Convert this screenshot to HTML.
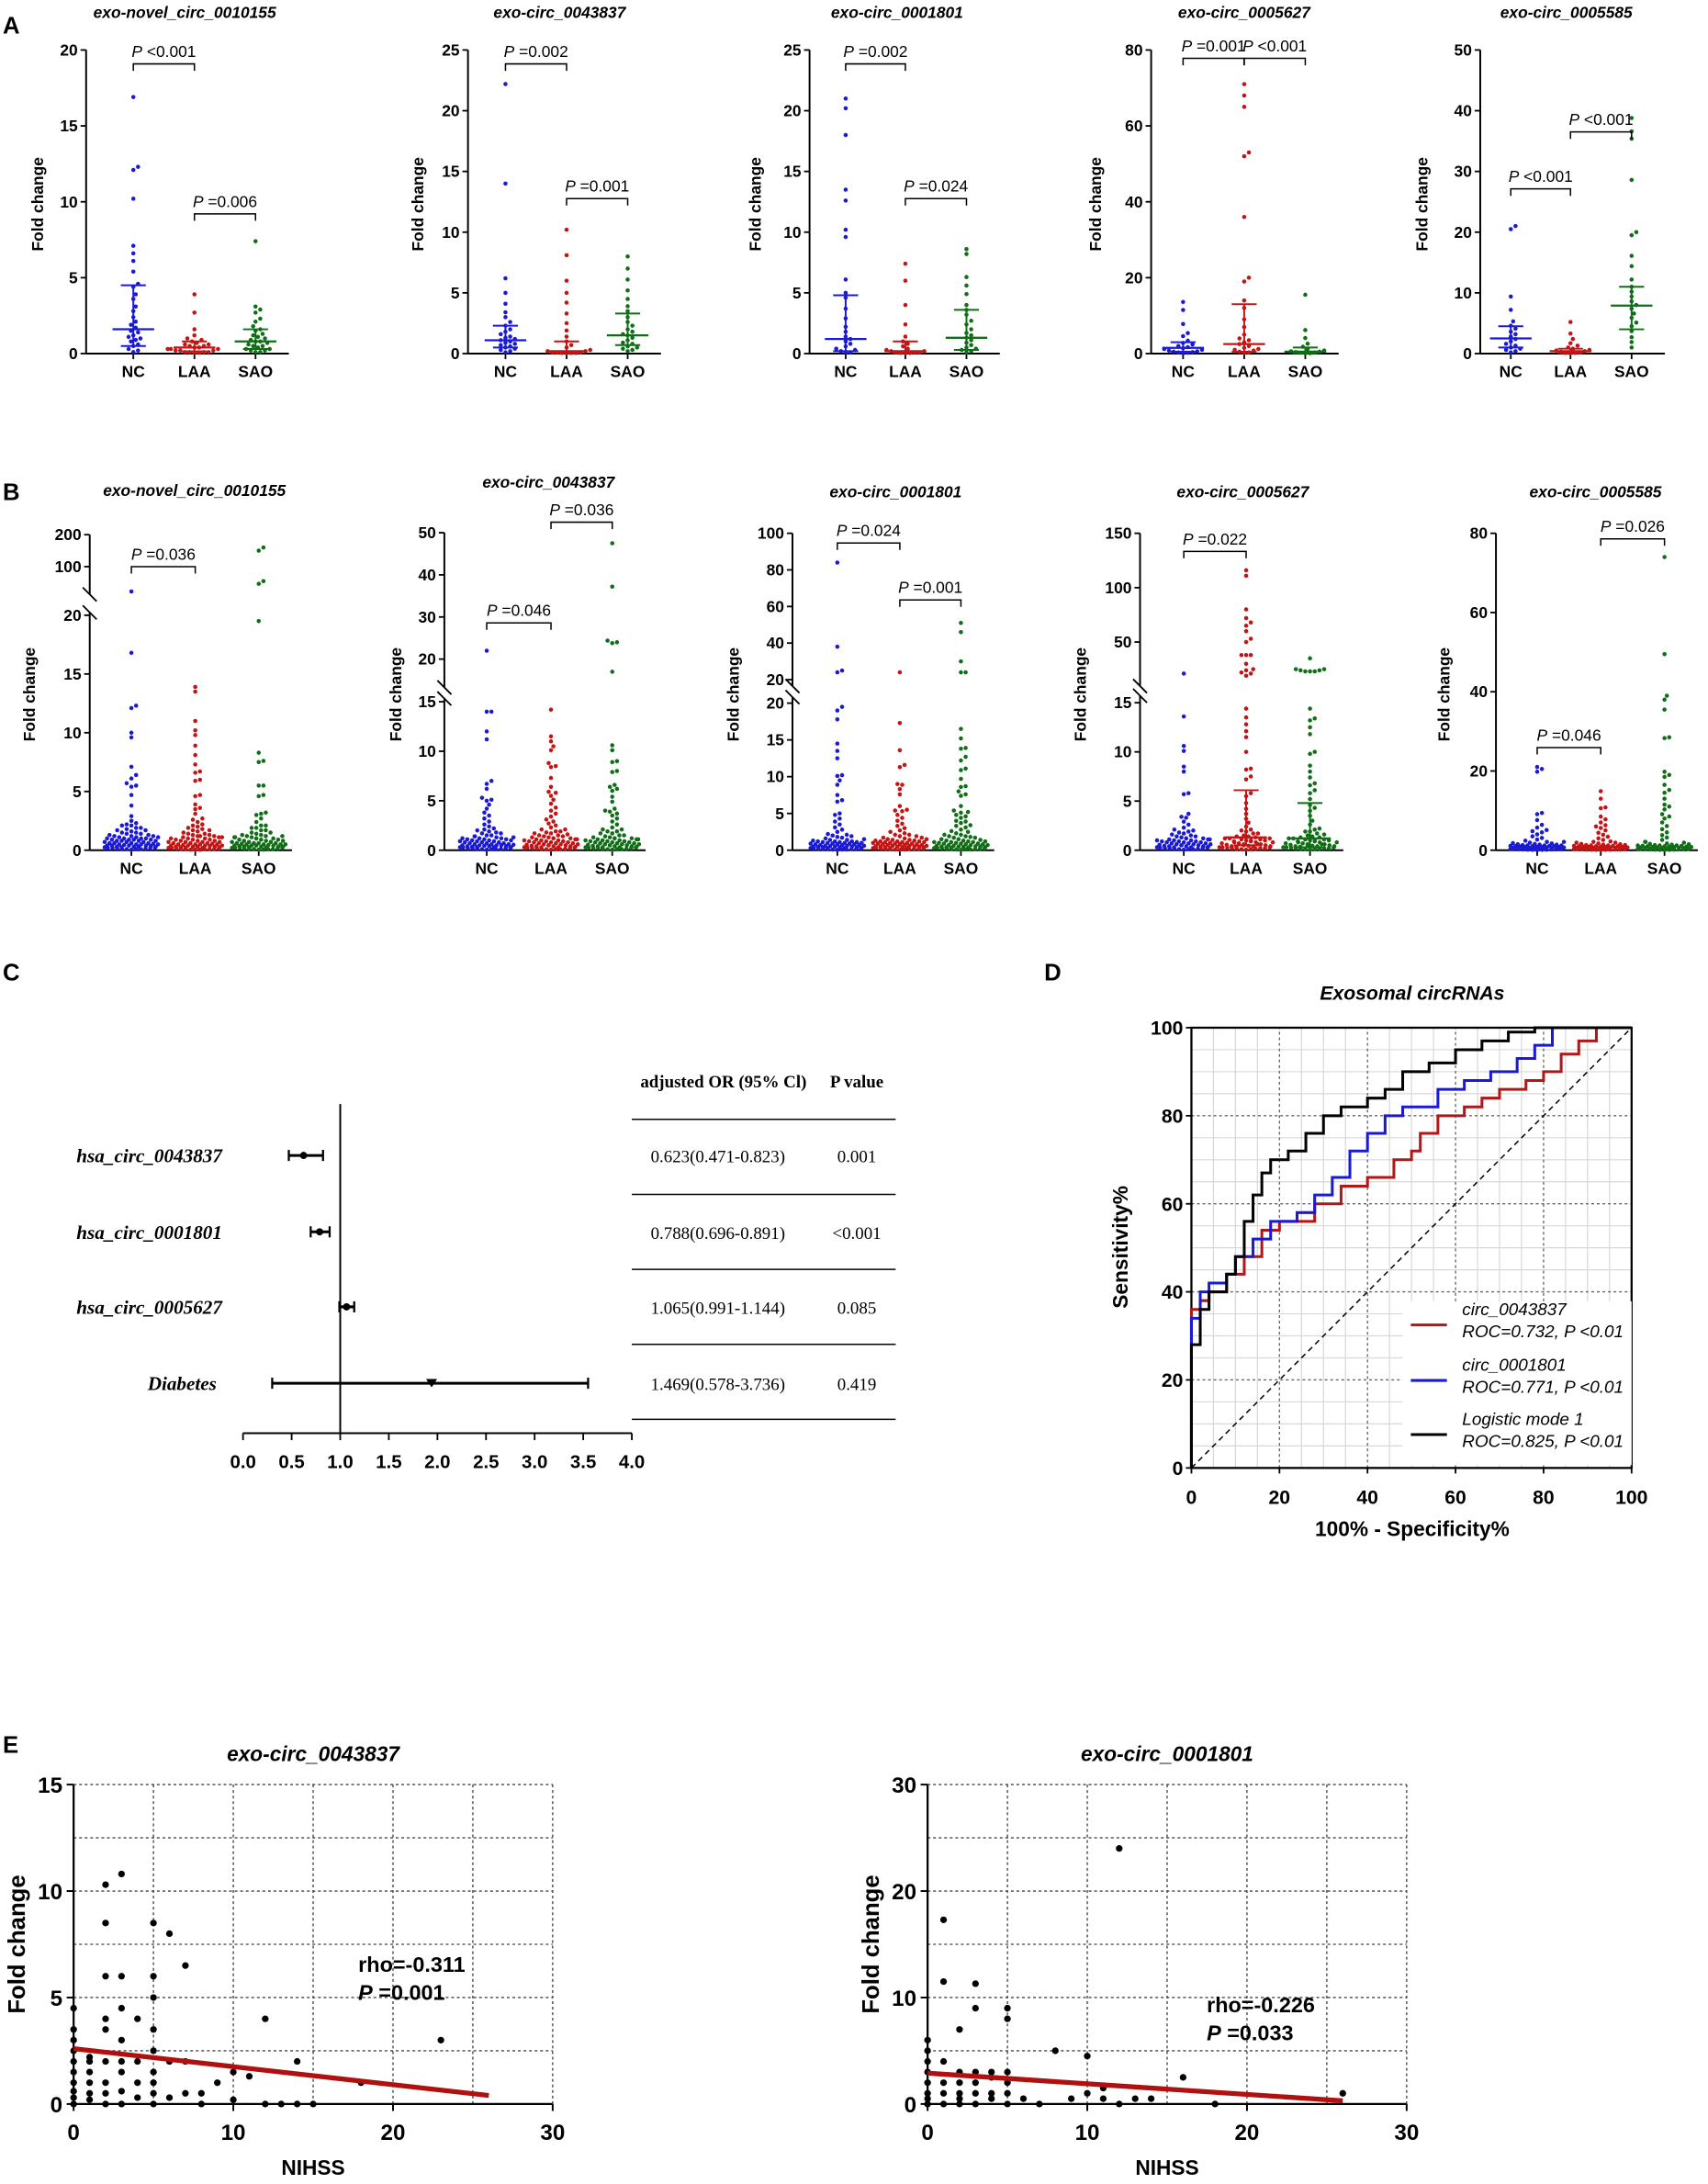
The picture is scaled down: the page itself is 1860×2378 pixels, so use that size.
<!DOCTYPE html>
<html><head><meta charset="utf-8">
<style>
html,body{margin:0;padding:0;background:#fff;}
svg{display:block;font-family:"Liberation Sans",Arial,sans-serif;}
.b{font-weight:bold}
</style></head>
<body>
<svg id="fig" width="1860" height="2378" viewBox="0 0 1230 1572.6" xmlns="http://www.w3.org/2000/svg">
<rect width="1230" height="1572.6" fill="#fff"/>
<g class="b" font-size="17">
<text x="2" y="24">A</text>
<text x="2" y="360">B</text>
<text x="2" y="706">C</text>
<text x="752" y="706">D</text>
<text x="2" y="1262">E</text>
</g>
</svg>
<script>
// ---------- DATA ----------
const groups=["NC","LAA","SAO"];
const a1NC=[16.9,12.3,12.1,10.2,7.1,6.6,6.1,5.4,4.6,4.4,3.9,3.6,3.1,2.8,2.4,2.1,1.9,1.7,1.5,1.4,1.2,1.1,1.0,0.9,0.8,0.6,0.5,0.3,0.2,0.1];
const a1LAA=[3.9,2.7,1.6,1.2,1.0,0.9,0.8,0.7,0.6,0.6,0.5,0.5,0.4,0.4,0.3,0.3,0.3,0.2,0.2,0.2,0.1,0.1,0.1,0.1,0.05,0.05];
const a1SAO=[7.4,3.1,2.9,2.7,2.3,2.1,1.8,1.6,1.5,1.3,1.2,1.1,1.0,0.9,0.8,0.8,0.7,0.6,0.5,0.5,0.4,0.3,0.3,0.2,0.2,0.1,0.1];
const a2NC=[22.2,14,6.2,5,4.1,3.4,3.0,2.6,2.3,2.0,1.8,1.6,1.4,1.3,1.2,1.1,1.0,0.9,0.8,0.7,0.6,0.5,0.4,0.3,0.2,0.1];
const a2LAA=[10.2,8.1,6.0,5.0,4.2,3.3,2.5,1.9,1.4,1.0,0.7,0.5,0.3,0.2,0.2,0.1,0.1,0.1,0.05,0.05,0.05,0.05];
const a2SAO=[8.0,7.0,6.1,5.2,4.5,3.9,3.5,3.0,2.6,2.3,2.0,1.8,1.6,1.5,1.3,1.1,0.9,0.8,0.6,0.5,0.4,0.3,0.2];
const a3NC=[21,20.2,18,13.5,12.6,10.2,9.6,6.1,5.0,4.6,3.7,2.9,2.2,1.8,1.4,1.2,1.0,0.8,0.6,0.4,0.3,0.2,0.1,0.1];
const a3LAA=[7.4,6.0,4.0,2.4,1.4,1.0,0.8,0.6,0.4,0.3,0.2,0.2,0.1,0.1,0.1,0.05,0.05,0.05];
const a3SAO=[8.6,8.2,6.3,5.6,4.9,4.0,3.6,3.2,2.7,2.4,2.0,1.7,1.5,1.3,1.1,0.9,0.7,0.5,0.4,0.3,0.2,0.1];
const a4NC=[13.6,11.5,7.8,5.4,4.6,3.4,2.8,2.4,2.0,1.7,1.4,1.2,1.0,0.8,0.6,0.5,0.4,0.3,0.2,0.1];
const a4LAA=[71,68,65,53,52,36,20,19,14,12,9,7,5,4,3.5,3,2.5,2,1.5,1.2,1,0.8,0.5,0.3,0.2];
const a4SAO=[15.5,6.2,4.1,2.6,1.8,1.2,0.8,0.6,0.5,0.4,0.3,0.2,0.1,0.1];
const a5NC=[21,20.5,9.4,7.2,5.3,4.6,4.1,3.6,3.2,2.8,2.4,2.0,1.6,1.3,1.0,0.8,0.6,0.4,0.2];
const a5LAA=[5.2,3.3,2.4,1.7,1.3,1.0,0.8,0.6,0.5,0.4,0.3,0.2,0.1,0.1,0.05];
const a5SAO=[38.8,36.6,35.4,28.6,20,19.5,16.1,14.4,12.2,11.0,10.2,9.4,8.6,8.0,7.4,6.6,5.9,5.1,4.5,3.7,2.7,1.9,1.0];
const aStats=[[[1.6,0.5,4.5],[0.4,0.15,0.8],[0.8,0.3,1.6]],[[1.1,0.5,2.3],[0.2,0.05,1.0],[1.5,0.7,3.3]],[[1.2,0.2,4.8],[0.2,0.05,1.0],[1.3,0.3,3.6]],[[1.5,0.5,3],[2.5,0.5,13],[0.5,0.1,1.6]],[[2.5,1,4.5],[0.4,0.1,0.8],[7.9,4,11]]];
const bBase=[0.05,0.1,0.15,0.2,0.25,0.3,0.35,0.4,0.45,0.5,0.55,0.6,0.7,0.8,0.9,1.0,1.1,1.2,1.3,1.4,1.5,1.7,1.9,2.1,0.1,0.2,0.3,0.4,0.5,0.6,0.8,1.0,1.2,0.15,0.25,0.7,0.9,1.1];
const b1NC=[35,16.8,12.3,12.1,10.0,9.6,7.1,6.4,6.1,5.7,5.5,5.4,4.7,3.8,2.9,2.5,2.3,2.2,2.1,1.9,1.8,1.7,1.6,1.5,1.4,1.3,1.2,1.1,1.0,1.0,0.9,0.9,0.8,0.8,0.7,0.6,0.6,0.5,0.5,0.4,0.4,0.3,0.3,0.2,0.2,0.1,0.1];
const b1LAA=[13.9,13.5,11,10.2,9.8,8.9,8.1,7.3,6.7,6.6,6.0,5.9,4.7,4.6,3.9,3.6,3.5,3.1,2.7,2.6,2.4,2.2,2.0,1.8,1.7,1.6,1.4,1.3,1.2,1.1,1.0,0.9,0.8,0.7,0.7,0.6,0.5,0.5,0.4,0.4,0.3,0.3,0.2,0.2,0.1,0.1,0.1,0.05,0.05];
const b1SAO=[160,150,62,55,19.5,8.3,7.6,7.5,5.5,5.5,4.6,4.7,3.2,3.1,3.0,2.7,2.4,2.1,1.9,1.7,1.5,1.3,1.2,1.1,1.0,0.9,0.8,0.7,0.6,0.6,0.5,0.5,0.4,0.4,0.3,0.3,0.2,0.2,0.1,0.1,0.05];
const b2NC=[22,14,14,12,11.2,7.0,6.7,6.2,5.3,5.1,5.0,4.6,4.2,3.8,3.5,3.2,2.9,2.6,2.4,2.2,2.0,1.8,1.7,1.5,1.4,1.3,1.2,1.1,1.0,0.9,0.8,0.7,0.6,0.5,0.5,0.4,0.3,0.3,0.2,0.1];
const b2LAA=[14.2,11.5,11.0,10.5,10.1,8.8,8.5,8.4,7.3,6.4,5.9,5.8,5.5,5.1,4.7,4.3,4.0,3.7,3.4,3.1,2.9,2.7,2.5,2.3,2.1,1.9,1.8,1.7,1.6,1.5,1.4,1.3,1.2,1.1,1.0,0.9,0.8,0.7,0.6,0.5,0.4,0.3,0.2,0.1];
const b2SAO=[47.5,37.2,24.4,24,23.8,17,10.6,10.1,9.0,8.9,8.0,7.9,6.6,6.4,6.2,6.0,5.4,4.9,4.2,4.0,3.9,3.7,3.5,3.2,2.9,2.6,2.3,2.1,1.9,1.7,1.5,1.3,1.2,1.1,1.0,0.9,0.8,0.7,0.6,0.5,0.4,0.3,0.2,0.1];
const b3NC=[84,38,25,24,19.5,19,17.8,14.5,13.5,12.5,10.2,10.1,9.5,8.9,7.5,6.8,6.6,5.0,4.8,4.3,3.9,3.5,3.1,2.8,2.5,2.2,2.0,1.8,1.6,1.4,1.2,1.1,1.0,0.9,0.8,0.7,0.6,0.5,0.4,0.3,0.2,0.1];
const b3LAA=[24,17.3,13.6,11.6,11.3,9.0,8.9,8.3,7.6,6.0,5.5,5.4,5.3,4.8,4.4,4.0,3.6,3.3,3.0,2.7,2.5,2.3,2.1,1.9,1.7,1.6,1.5,1.4,1.3,1.2,1.1,1.0,0.9,0.8,0.7,0.6,0.5,0.4,0.3,0.2];
const b3SAO=[51,46,30,24,24,16.5,15.2,13.9,13.8,12.7,12.2,11.1,10.9,9.7,8.7,8.6,8.0,7.6,7.4,6.0,5.4,5.2,5.1,4.8,4.4,4.0,3.7,3.4,3.1,2.8,2.5,2.3,2.1,1.9,1.7,1.5,1.3,1.1,0.9,0.7,0.5,0.3,0.1,3.9,2.6,4.6,3.3,1.8];
const b4NC=[21,13.6,10.6,10.1,8.5,8.0,5.8,5.7,3.7,3.4,3.3,2.9,2.6,2.3,2.0,1.8,1.6,1.4,1.2,1.1,1.0,0.9,0.8,0.7,0.6,0.5,0.4,0.3,0.2,0.1];
const b4LAA=[116,111,80,72,68,65,60,53,50,38,38,38,30,25,24,22,21,19,14.4,13.5,12.8,12.1,11.5,10,8.3,8.2,7.5,7.2,5.8,5.5,4.8,4.2,3.7,3.2,2.8,2.4,2.0,1.7,1.4,1.2,1.0,0.8,0.6,0.4,0.2];
const b4SAO=[35,25,25,24,24,23,23,23,14.4,13.4,13.2,12.5,11.8,10,9.8,8.6,8.0,7.4,6.8,6.6,6.1,5.8,5.2,4.6,4.3,4.0,3.5,3.0,2.6,2.2,1.9,1.6,1.3,1.0,0.8,0.6,0.4,0.2];
const b5NC=[21,20.5,19.8,9.4,9.1,7.6,6.4,5.7,5.1,4.8,4.5,4.0,3.5,3.1,2.7,2.4,2.1,1.8,1.6,1.4,1.2,1.0,0.8,0.6,0.4,0.2];
const b5LAA=[14.9,13.0,10.8,10.6,8.5,7.8,7.0,6.3,6.0,5.6,5.0,4.4,3.9,3.4,3.0,2.6,2.2,1.9,1.6,1.3,1.0,0.8,0.6,0.4,0.2];
const b5SAO=[74,49.5,39,38,35.5,28.5,28.3,19.8,19.0,18.5,16.5,15.2,14.5,13,11.5,11,10.3,9.1,8.5,8,7,6.1,5.3,4.5,3.8,3.2,2.6,2.1,1.6,1.2,0.8,0.4];
const bStats=[null,null,null,[null,[1.3,0.5,6.1],[1.2,0.3,4.8]],null];
const forestLabels=["hsa_circ_0043837","hsa_circ_0001801","hsa_circ_0005627","Diabetes"];
const forestOR=[0.623,0.788,1.065,1.94];
const forestLo=[0.471,0.696,0.991,0.3];
const forestHi=[0.823,0.891,1.144,3.55];
const forestTextOR=["0.623(0.471-0.823)","0.788(0.696-0.891)","1.065(0.991-1.144)","1.469(0.578-3.736)"];
const forestTextP=["0.001","<0.001","0.085","0.419"];
const forestTicks=[0,0.5,1,1.5,2,2.5,3,3.5,4];
const rocBlack=[[0,0],[0,28],[2,28],[2,36],[4,36],[4,40],[8,40],[8,44],[10,44],[10,48],[12,48],[12,56],[14,56],[14,62],[16,62],[16,67],[18,67],[18,70],[22,70],[22,72],[26,72],[26,76],[30,76],[30,80],[34,80],[34,82],[40,82],[40,84],[44,84],[44,86],[48,86],[48,90],[54,90],[54,92],[60,92],[60,95],[66,95],[66,97],[72,97],[72,99],[78,99],[78,100],[100,100]];
const rocBlue=[[0,0],[0,34],[2,34],[2,40],[4,40],[4,42],[8,42],[8,44],[10,44],[10,48],[14,48],[14,52],[18,52],[18,56],[24,56],[24,58],[28,58],[28,62],[32,62],[32,66],[36,66],[36,72],[40,72],[40,76],[44,76],[44,80],[48,80],[48,82],[56,82],[56,86],[62,86],[62,88],[68,88],[68,90],[74,90],[74,93],[78,93],[78,96],[82,96],[82,100],[100,100]];
const rocRed=[[0,0],[0,36],[2,36],[2,38],[4,38],[4,40],[8,40],[8,44],[12,44],[12,48],[16,48],[16,54],[20,54],[20,56],[28,56],[28,60],[34,60],[34,64],[40,64],[40,66],[46,66],[46,70],[50,70],[50,72],[52,72],[52,76],[56,76],[56,80],[62,80],[62,82],[66,82],[66,84],[70,84],[70,86],[76,86],[76,88],[80,88],[80,90],[84,90],[84,94],[88,94],[88,97],[92,97],[92,100],[100,100]];
const rocTicks=[0,20,40,60,80,100];
const e1Points=[[0,0],[0,0.3],[0,0.6],[0,1],[0,1.5],[0,2],[0,2.5],[0,3],[0,3.5],[0,4.5],[1,0.2],[1,0.5],[1,1],[1,1.5],[1,2],[1,2.2],[2,0],[2,0.5],[2,1],[2,2],[2,3.5],[2,4],[2,6],[2,8.5],[2,10.3],[3,0],[3,0.6],[3,1.5],[3,2],[3,3],[3,4.5],[3,6],[3,10.8],[4,0.3],[4,1],[4,2],[4,4],[5,0],[5,0.5],[5,1],[5,1.5],[5,2.5],[5,3.5],[5,5],[5,6],[5,8.5],[6,0.3],[6,2],[6,8],[7,0.5],[7,2],[7,6.5],[8,0],[8,0.5],[9,1],[10,0.2],[10,1.5],[11,1.3],[12,0],[12,4],[13,0],[14,0],[14,2],[15,0],[18,1],[23,3]];
const e2Points=[[0,0],[0,0.5],[0,1],[0,2],[0,3],[0,4],[0,5],[0,6],[1,0],[1,1],[1,2],[1,4],[1,11.5],[1,17.3],[2,0],[2,0.5],[2,1],[2,2],[2,3],[2,7],[3,0],[3,1],[3,2],[3,3],[3,9],[3,11.3],[4,0.5],[4,1],[4,2.5],[4,3],[5,0],[5,1],[5,2],[5,3],[5,8],[5,9],[6,0.5],[7,0],[8,5],[9,0.5],[10,1],[10,4.5],[11,0.5],[11,1.5],[12,0],[12,24],[13,0.5],[14,0.5],[16,2.5],[18,0],[26,1]];
const e1Fit=[[0,2.6],[26,0.4]];
const e2Fit=[[0,2.9],[26,0.3]];

// ---------- HELPERS ----------
const NS="http://www.w3.org/2000/svg";
const svg=document.getElementById('fig');
function mk(tag,attrs,parent,txt){const e=document.createElementNS(NS,tag);for(const k in attrs)e.setAttribute(k,attrs[k]);if(txt!==undefined)e.textContent=txt;(parent||svg).appendChild(e);return e;}
function ln(x1,y1,x2,y2,st,w,p,dash){const e=mk('line',{x1,y1,x2,y2,stroke:st||'#000','stroke-width':w||1.2},p);if(dash)e.setAttribute('stroke-dasharray',dash);return e;}
const colors=["#1a1ad6","#c41414","#0f6e16"];

function swarm(vals,cx,map,g,col,name){
  const ys=vals.map(map).sort((a,b)=>b-a);
  const placed=[];const D=3.3;const MAXW=20;let cyc=0;
  ys.forEach(y=>{
    let off=null;
    for(let k=0;k<40;k++){
      const cand=k==0?0:(k%2?1:-1)*Math.ceil(k/2)*1.7;
      if(Math.abs(cand)>MAXW)break;
      let ok=true;
      for(const p of placed){const dy=p[1]-y;if(Math.abs(dy)<D){const dx=p[0]-cand;if(dx*dx+dy*dy<D*D){ok=false;break;}}}
      if(ok){off=cand;break;}
    }
    if(off===null){off=((cyc*7)%23-11)*1.75;cyc++;}
    placed.push([off,y]);
    const c=mk('circle',{cx:cx+off,cy:y,r:1.5,fill:col},g);
    
    
  });
}
function bracket(g,x1,x2,y,label){
  const p=mk('path',{d:`M${x1} ${y+5}V${y}H${x2}V${y+5}`,fill:'none',stroke:'#000','stroke-width':1},g);
  
  
  const t=mk('text',{x:(x1+x2)/2,y:y-5,'text-anchor':'middle','font-size':11.5},g);
  mk('tspan',{'font-style':'italic'},t,'P');
  mk('tspan',{},t,' '+label);
  
  
}
function tickLabel(g,ax,y,t){ln(ax-4,y,ax,y,'#000',1.2,g);
  const tx=mk('text',{x:ax-6,y:y+4,'text-anchor':'end','font-size':11.5,class:'b'},g,String(t));
  
  }

function dotPlot(cfg){
  const g=mk('g',{});
  
  
  const y0=cfg.y0, ax=cfg.ax, map=cfg.map;
  cfg.axisSegs.forEach(s=>ln(ax,s[0],ax,s[1],'#000',1.3,g));
  if(cfg.breakAt){cfg.breakAt.forEach(by=>{ln(ax-5,by-5,ax+5,by+5,'#000',1.2,g);});}
  ln(ax,y0,cfg.cats[2]+24,y0,'#000',1.3,g);
  cfg.ticks.forEach(t=>tickLabel(g,ax,map(t),t));
  if(cfg.upTicks)cfg.upTicks.forEach(t=>tickLabel(g,ax,cfg.mapU(t),t));
  groups.forEach((gn,i)=>{const cx=cfg.cats[i];ln(cx,y0,cx,y0+4,'#000',1.2,g);
    const tx=mk('text',{x:cx,y:y0+17,'text-anchor':'middle','font-size':11.5,class:'b'},g,gn);
    
    
    swarm(cfg.data[i],cx,map,g,colors[i],'dot-'+gn.toLowerCase());});
  if(cfg.stats){cfg.stats.forEach((s,i)=>{if(!s)return;const cx=cfg.cats[i];
    ln(cx-15,map(s[0]),cx+15,map(s[0]),colors[i],1.5,g);
    ln(cx,map(s[1]),cx,map(s[2]),colors[i],1.3,g);
    ln(cx-9,map(s[1]),cx+9,map(s[1]),colors[i],1.3,g);
    ln(cx-9,map(s[2]),cx+9,map(s[2]),colors[i],1.3,g);});}
  const ti=mk('text',{x:cfg.tx,y:cfg.ty,'text-anchor':'middle','font-size':11.5,'font-style':'italic',class:'b'},g,cfg.title);
  
  
  const yl=mk('text',{transform:`translate(${cfg.ylx},${cfg.yly}) rotate(-90)`,'text-anchor':'middle','font-size':11.5,class:'b'},g,'Fold change');
  
  
  cfg.brackets.forEach(b=>bracket(g,cfg.cats[b[0]],cfg.cats[b[1]],b[2],b[3]));
}
function lin(vmax,ptop,y0){return v=>y0-(v/vmax)*(y0-ptop);}
function pw(knots){return v=>{let i=0;while(i<knots.length-2&&v>knots[i+1][0])i++;const a=knots[i],b=knots[i+1];return a[1]+(v-a[0])/(b[0]-a[0])*(b[1]-a[1]);};}
function brk(lmax,ltop,knots,y0){const u=pw(knots);return v=>v<=lmax?y0-(v/lmax)*(y0-ltop):u(v);}

// ---------- PANEL A ----------
const A0=254.6;
const aCfg=[
 {name:'a-plot-0010155',ax:62,cats:[96,140,184],vmax:20,step:5,data:[a1NC,a1LAA,a1SAO],title:'exo-novel_circ_0010155',tx:133,ylx:31,br:[[0,1,46,'<0.001'],[1,2,154,'=0.006']]},
 {name:'a-plot-0043837',ax:337,cats:[364,408,452],vmax:25,step:5,data:[a2NC,a2LAA,a2SAO],title:'exo-circ_0043837',tx:403,ylx:305,br:[[0,1,46,'=0.002'],[1,2,143,'=0.001']]},
 {name:'a-plot-0001801',ax:583,cats:[609,652,696],vmax:25,step:5,data:[a3NC,a3LAA,a3SAO],title:'exo-circ_0001801',tx:646,ylx:548,br:[[0,1,46,'=0.002'],[1,2,143,'=0.024']]},
 {name:'a-plot-0005627',ax:829,cats:[852,896,940],vmax:80,step:20,data:[a4NC,a4LAA,a4SAO],title:'exo-circ_0005627',tx:896,ylx:793,br:[[0,1,42,'=0.001'],[1,2,42,'<0.001']]},
 {name:'a-plot-0005585',ax:1066,cats:[1088,1131,1175],vmax:50,step:10,data:[a5NC,a5LAA,a5SAO],title:'exo-circ_0005585',tx:1128,ylx:1028,br:[[0,1,136,'<0.001'],[1,2,95,'<0.001']]}
];
aCfg.forEach((c,k)=>{const ticks=[];for(let t=0;t<=c.vmax;t+=c.step)ticks.push(t);
 dotPlot({name:c.name,y0:A0,ax:c.ax,cats:c.cats,map:lin(c.vmax,36,A0),axisSegs:[[36,A0]],ticks,data:c.data,stats:aStats[k],title:c.title,tx:c.tx,ty:13,ylx:c.ylx,yly:147,brackets:c.br});});

// ---------- PANEL B ----------
const B0=612.2;
const bk1=[[20,430],[100,408],[200,385]];
dotPlot({name:'b-plot-0010155',y0:B0,ax:64.6,cats:[94.6,140.6,186.3],map:brk(20,443,bk1,B0),mapU:pw(bk1),axisSegs:[[385,428],[441,B0]],breakAt:[428,441],ticks:[0,5,10,15,20],upTicks:[100,200],data:[b1NC.concat(bBase),b1LAA.concat(bBase),b1SAO.concat(bBase)],title:'exo-novel_circ_0010155',tx:140,ty:357,ylx:25,yly:500,brackets:[[0,1,408,'=0.036']]});
const bk2=[[20,474.6],[50,383.6]];
dotPlot({name:'b-plot-0043837',y0:B0,ax:320,cats:[350.5,396.8,440.9],map:brk(15,505.3,bk2,B0),mapU:pw(bk2),axisSegs:[[383.6,495],[503,B0]],breakAt:[495,503],ticks:[0,5,10,15],upTicks:[20,30,40,50],data:[b2NC.concat(bBase),b2LAA.concat(bBase),b2SAO.concat(bBase)],title:'exo-circ_0043837',tx:395,ty:351,ylx:289,yly:500,brackets:[[0,1,448.5,'=0.046'],[1,2,376,'=0.036']]});
const bk3=[[20,489.4],[100,384]];
dotPlot({name:'b-plot-0001801',y0:B0,ax:570.7,cats:[603,648,692],map:brk(20,506.3,bk3,B0),mapU:pw(bk3),axisSegs:[[384,494],[502,B0]],breakAt:[494,502],ticks:[0,5,10,15,20],upTicks:[20,40,60,80,100],data:[b3NC.concat(bBase),b3LAA.concat(bBase),b3SAO.concat(bBase)],title:'exo-circ_0001801',tx:645,ty:358,ylx:532,yly:500,brackets:[[0,1,391,'=0.024'],[1,2,432,'=0.001']]});
const bk4=[[50,462.3],[150,384]];
dotPlot({name:'b-plot-0005627',y0:B0,ax:821,cats:[852.5,897.4,943.4],map:brk(15,506,bk4,B0),mapU:pw(bk4),axisSegs:[[384,494],[501,B0]],breakAt:[494,501],ticks:[0,5,10,15],upTicks:[50,100,150],data:[b4NC.concat(bBase),b4LAA.concat(bBase),b4SAO.concat(bBase)],title:'exo-circ_0005627',tx:895,ty:358,ylx:782,yly:500,stats:bStats[3],brackets:[[0,1,397,'=0.022']]});
dotPlot({name:'b-plot-0005585',y0:B0,ax:1077.3,cats:[1107,1152.8,1198.7],map:lin(80,384,B0),axisSegs:[[384,B0]],ticks:[0,20,40,60,80],data:[b5NC.concat(bBase),b5LAA.concat(bBase),b5SAO.concat(bBase)],title:'exo-circ_0005585',tx:1149,ty:358,ylx:1044,yly:500,brackets:[[0,1,538.3,'=0.046'],[1,2,388,'=0.026']]});

// ---------- PANEL C ----------
(function(){
 const g=mk('g',{});
 
 
 const fx=v=>175+v*70, rows=[832,887,941,996], axY=1032;
 ln(175,axY,455,axY,'#000',1.3,g);
 forestTicks.forEach(t=>{ln(fx(t),axY,fx(t),axY+5,'#000',1.2,g);
  const tx=mk('text',{x:fx(t),y:axY+25,'text-anchor':'middle','font-size':13.5,class:'b'},g,t.toFixed(1));
  
  });
 ln(fx(1),795,fx(1),axY,'#000',1.3,g);
 forestLabels.forEach((l,i)=>{const y=rows[i];
  const tx=mk('text',{x:i==3?156:160,y:y+5,'text-anchor':'end','font-size':14,'font-style':'italic',class:'b','font-family':'Liberation Serif,serif'},g,l);
  
  
  ln(fx(forestLo[i]),y,fx(forestHi[i]),y,'#000',2,g);
  ln(fx(forestLo[i]),y-4,fx(forestLo[i]),y+4,'#000',1.5,g);
  ln(fx(forestHi[i]),y-4,fx(forestHi[i]),y+4,'#000',1.5,g);
  const m=i==3?mk('path',{d:`M${fx(forestOR[i])-4} ${y-3}h8l-4 6z`,fill:'#000'},g):mk('circle',{cx:fx(forestOR[i]),cy:y,r:2.6,fill:'#000'},g);
  
  
  const t1=mk('text',{x:517,y:y+5,'text-anchor':'middle','font-size':12.5,'font-family':'Liberation Serif,serif'},g,forestTextOR[i]);
  
  
  const t2=mk('text',{x:617,y:y+5,'text-anchor':'middle','font-size':12.5,'font-family':'Liberation Serif,serif'},g,forestTextP[i]);
  
  });
 const h1=mk('text',{x:521,y:783,'text-anchor':'middle','font-size':12.5,class:'b','font-family':'Liberation Serif,serif'},g,'adjusted OR (95% Cl)');
 
 
 const h2=mk('text',{x:617,y:783,'text-anchor':'middle','font-size':12.5,class:'b','font-family':'Liberation Serif,serif'},g,'P value');
 
 
 [806,860,914,968,1022].forEach(y=>ln(455,y,645,y,'#000',1,g));
})();

// ---------- PANEL D ----------
(function(){
 const g=mk('g',{});
 
 
 const X=v=>858+v*3.17, Y=v=>1057-v*3.17;
 for(let v=5;v<100;v+=5){if(v%20==0)continue;ln(X(v),Y(0),X(v),Y(100),'#d8d8d8',0.8,g);ln(X(0),Y(v),X(100),Y(v),'#d8d8d8',0.8,g);}
 [20,40,60,80].forEach(v=>{ln(X(v),Y(0),X(v),Y(100),'#666',0.9,g,'2,2');ln(X(0),Y(v),X(100),Y(v),'#666',0.9,g,'2,2');});
 mk('rect',{x:X(0),y:Y(100),width:317,height:317,fill:'none',stroke:'#000','stroke-width':1.5},g);
 ln(X(0),Y(0),X(100),Y(100),'#000',1,g,'4,3');
 rocTicks.forEach(t=>{ln(X(t),Y(0),X(t),Y(0)+4,'#000',1.2,g);ln(X(0)-4,Y(t),X(0),Y(t),'#000',1.2,g);
  const a=mk('text',{x:X(t),y:1083,'text-anchor':'middle','font-size':14,class:'b'},g,String(t));
  
  
  const b=mk('text',{x:X(0)-6,y:Y(t)+5,'text-anchor':'end','font-size':14,class:'b'},g,String(t));
  
  });
 [[rocRed,'#b01818','roc-curve-0043837'],[rocBlue,'#1a1ad6','roc-curve-0001801'],[rocBlack,'#000','roc-curve-logistic']].forEach(c=>{
  const p=mk('path',{d:c[0].map((q,i)=>(i?'L':'M')+X(q[0])+' '+Y(q[1])).join(''),fill:'none',stroke:c[1],'stroke-width':2},g);
  
  });
 const t=mk('text',{x:1017,y:720,'text-anchor':'middle','font-size':14,'font-style':'italic',class:'b'},g,'Exosomal circRNAs');
 
 
 const yl=mk('text',{transform:'translate(812,898) rotate(-90)','text-anchor':'middle','font-size':15,class:'b'},g,'Sensitivity%');
 
 
 const xl=mk('text',{x:1017,y:1106,'text-anchor':'middle','font-size':15,class:'b'},g,'100% - Specificity%');
 
 
 mk('rect',{x:1010,y:937,width:165,height:118,fill:'#fff'},g);
 [['#b01818','circ_0043837','ROC=0.732, ',954],['#1a1ad6','circ_0001801','ROC=0.771, ',994],['#000','Logistic mode 1','ROC=0.825, ',1033]].forEach(L=>{
  const lg=mk('g',{},g);
  
  
  ln(1016,L[3],1042,L[3],L[0],2,lg);
  mk('text',{x:1053,y:L[3]-7,'font-size':12.5,'font-style':'italic'},lg,L[1]);
  mk('text',{x:1053,y:L[3]+9,'font-size':12.5,'font-style':'italic'},lg,L[2]+'P <0.01');});
})();

// ---------- PANEL E ----------
function scatterE(name,x0,ymax,pts,fit,title,rho,p){
 const g=mk('g',{});
 
 
 const X=v=>x0+v*11.5, Y=v=>1515-v/ymax*230;
 for(let v=5;v<=30;v+=5)ln(X(v),Y(0),X(v),Y(ymax),'#444',0.9,g,'2,2');
 for(let k=1;k<=6;k++)ln(X(0),Y(ymax*k/6),X(30),Y(ymax*k/6),'#444',0.9,g,'2,2');
 ln(X(0),Y(0),X(0),Y(ymax),'#000',1.5,g);ln(X(0),Y(0),X(30),Y(0),'#000',1.5,g);
 [0,10,20,30].forEach(t=>{ln(X(t),Y(0),X(t),Y(0)+5,'#000',1.3,g);
  const a=mk('text',{x:X(t),y:1541,'text-anchor':'middle','font-size':16,class:'b'},g,String(t));
  
  });
 for(let k=0;k<=3;k++){const v=ymax*k/3;ln(X(0)-5,Y(v),X(0),Y(v),'#000',1.3,g);
  const b=mk('text',{x:X(0)-8,y:Y(v)+6,'text-anchor':'end','font-size':16,class:'b'},g,String(v));
  
  }
 pts.forEach(q=>{const c=mk('circle',{cx:X(q[0]),cy:Y(q[1]),r:2.4,fill:'#000'},g);
  
  });
 const f=ln(X(fit[0][0]),Y(fit[0][1]),X(fit[1][0]),Y(fit[1][1]),'#b01010',3.5,g);
 
 
 const t=mk('text',{x:X(15),y:1268,'text-anchor':'middle','font-size':15,'font-style':'italic',class:'b'},g,title);
 
 
 const yl=mk('text',{transform:`translate(${x0-35},1400) rotate(-90)`,'text-anchor':'middle','font-size':17,class:'b'},g,'Fold change');
 
 
 const xl=mk('text',{x:X(15),y:1566,'text-anchor':'middle','font-size':15,class:'b'},g,'NIHSS');
 
 
 const r=mk('text',{x:rho[0],y:rho[1],'font-size':15.5,class:'b'},g,rho[2]);
 
 
 const pt=mk('text',{x:rho[0],y:rho[1]+20,'font-size':15.5,class:'b'},g);
 mk('tspan',{'font-style':'italic'},pt,'P');
 mk('tspan',{},pt,' '+p);
 
 
}
scatterE('scatter-0043837',53,15,e1Points,e1Fit,'exo-circ_0043837',[258,1420,'rho=-0.311'],'=0.001');
scatterE('scatter-0001801',668,30,e2Points,e2Fit,'exo-circ_0001801',[869,1449,'rho=-0.226'],'=0.033');
</script>
</body></html>
